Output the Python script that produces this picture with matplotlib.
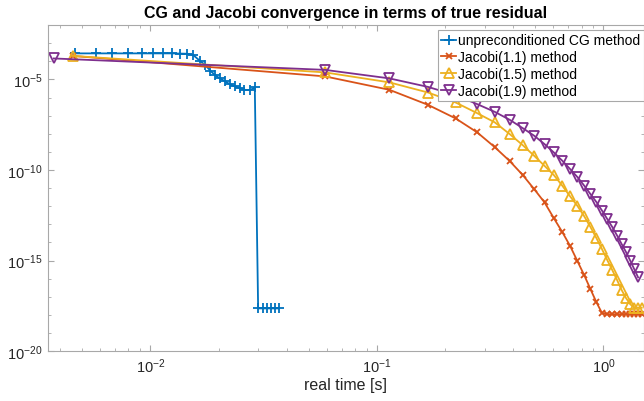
import numpy as np
import matplotlib.pyplot as plt
from matplotlib.ticker import NullFormatter

plt.rcParams['font.family'] = ['Liberation Sans', 'DejaVu Sans']

# unpreconditioned CG: real time [s] and true residual (log10)
cgTime = [0.00464, 0.00575, 0.00675, 0.00798, 0.00914, 0.01023, 0.01132, 0.01241, 0.01349,
          0.01453, 0.01545, 0.01654, 0.0175, 0.0184, 0.0193, 0.0202, 0.0213, 0.0224, 0.0236,
          0.0248, 0.0260, 0.0275, 0.0289, 0.0299, 0.0315, 0.0327, 0.0342, 0.0356, 0.0370]
cgRes = [-3.56, -3.56, -3.56, -3.56, -3.56, -3.56, -3.56, -3.56, -3.57,
         -3.58, -3.65, -3.97, -4.21, -4.52, -4.76, -4.93, -5.09, -5.26, -5.38,
         -5.48, -5.57, -5.59, -5.44, -17.64, -17.64, -17.64, -17.64, -17.64, -17.64]

# shared iteration times for the Jacobi runs
jacTime = [0.00454, 0.059, 0.1135, 0.168, 0.2225, 0.277, 0.3315, 0.386, 0.4405, 0.495,
           0.5495, 0.604, 0.6585, 0.713, 0.7675, 0.822, 0.8765, 0.931, 0.9855, 1.040,
           1.0945, 1.149, 1.2035, 1.258, 1.3125, 1.367, 1.4215, 1.476]

jac11 = [-3.70, -4.83, -5.57, -6.40, -7.15, -7.92, -8.74, -9.51, -10.28, -11.06,
         -11.79, -12.66, -13.43, -14.20, -15.03, -15.80, -16.58, -17.30, -17.90, -17.96,
         -17.96, -17.96, -17.96, -17.96, -17.96, -17.96, -17.96, -17.96]
jac15 = [-3.70, -4.61, -5.16, -5.72, -6.27, -6.86, -7.37, -8.02, -8.63, -9.22,
         -9.77, -10.28, -10.87, -11.46, -11.98, -12.55, -13.15, -13.76, -14.37, -14.98,
         -15.53, -16.08, -16.63, -17.07, -17.41, -17.60, -17.60, -17.60]
jac19Time = [0.00375] + jacTime[1:27]
jac19 = [-3.84, -4.47, -4.94, -5.41, -5.87, -6.36, -6.79, -7.23, -7.69, -8.11,
         -8.57, -9.03, -9.49, -9.95, -10.39, -10.86, -11.33, -11.77, -12.24, -12.71,
         -13.15, -13.62, -14.09, -14.53, -15.00, -15.47, -15.92]

names = ['unpreconditioned CG method', 'Jacobi(1.1) method', 'Jacobi(1.5) method', 'Jacobi(1.9) method']

fig = plt.figure(figsize=(6.44, 4.02), dpi=100)
ax = fig.add_axes([0.074, 0.124, 0.926, 0.811])

ax.plot(cgTime, 10.0 ** np.array(cgRes), color='#0072BD', marker='+', ms=6.5, mew=1.3, lw=1.3, label=names[0])
ax.plot(jacTime, 10.0 ** np.array(jac11), color='#D95319', marker='x', ms=4, mew=1.3, lw=1.3, label=names[1])
ax.plot(jacTime, 10.0 ** np.array(jac15), color='#EDB120', marker='^', ms=6.5, mew=1.3, lw=1.3,
        mfc='none', label=names[2])
ax.plot(jac19Time, 10.0 ** np.array(jac19), color='#7E2F8E', marker='v', ms=6.5, mew=1.3, lw=1.3,
        mfc='none', label=names[3])

ax.set_xscale('log')
ax.set_yscale('log')
ax.set_xlim(0.00352, 1.51)
ax.set_ylim(1e-20, 1e-2)

ax.set_yticks([1e-20, 1e-15, 1e-10, 1e-5])
ax.set_yticks([10.0 ** k for k in range(-20, -1)], minor=True)
ax.yaxis.set_minor_formatter(NullFormatter())
ax.set_xticks([1e-2, 1e-1, 1e0])
ax.xaxis.set_minor_formatter(NullFormatter())

for s in ax.spines.values():
    s.set_color('#a8a8a8')
    s.set_linewidth(0.8)
ax.tick_params(which='both', direction='in', top=True, right=True, colors='#a8a8a8',
               labelcolor='#262626', labelsize=10.5)
ax.tick_params(which='major', length=4)
ax.tick_params(which='minor', length=2.5)

ax.set_title('CG and Jacobi convergence in terms of true residual', fontsize=11.5,
             fontweight='bold', color='#000000', pad=6)
ax.set_xlabel('real time [s]', fontsize=11.5, color='#262626', labelpad=2)

leg = ax.legend(loc='upper right', bbox_to_anchor=(1.0, 0.985), fontsize=10, handlelength=1.1,
                handletextpad=0.15, borderpad=0.25, labelspacing=0.2, fancybox=False,
                framealpha=1, edgecolor='#a8a8a8', borderaxespad=0)
leg.get_frame().set_linewidth(0.8)

plt.savefig('out.png', dpi=100)
